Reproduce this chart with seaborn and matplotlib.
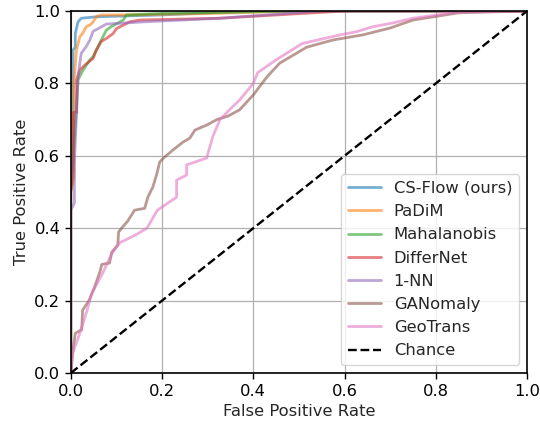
import matplotlib
matplotlib.use('Agg')
import matplotlib.pyplot as plt
import seaborn as sns
import pandas as pd

# ROC vertices (fpr, tpr)
methods = ['CS-Flow (ours)', 'PaDiM', 'Mahalanobis', 'DifferNet', '1-NN', 'GANomaly', 'GeoTrans']

csflow_fpr = [0.0, 0.0, 0.005, 0.005, 0.01, 0.01, 0.016, 0.023, 0.056, 0.195, 0.40, 1.0]
csflow_tpr = [0.0, 0.55, 0.60, 0.892, 0.90, 0.938, 0.97, 0.98, 0.984, 0.989, 1.0, 1.0]

padim_fpr = [0.0, 0.0, 0.007, 0.007, 0.0125, 0.02, 0.027, 0.034, 0.042, 0.049, 0.056, 0.067, 0.12, 0.30, 0.50, 1.0]
padim_tpr = [0.0, 0.50, 0.54, 0.80, 0.892, 0.929, 0.94, 0.957, 0.961, 0.970, 0.984, 0.989, 0.989, 0.993, 1.0, 1.0]

maha_fpr = [0.0, 0.0, 0.004, 0.012, 0.016, 0.027, 0.042, 0.049, 0.06, 0.067, 0.078, 0.089, 0.115, 0.122, 0.195, 0.50, 1.0]
maha_tpr = [0.0, 0.50, 0.57, 0.72, 0.81, 0.837, 0.865, 0.874, 0.902, 0.92, 0.947, 0.957, 0.975, 0.989, 0.993, 1.0, 1.0]

differ_fpr = [0.0, 0.0, 0.006, 0.006, 0.013, 0.013, 0.02, 0.031, 0.049, 0.056, 0.067, 0.078, 0.093, 0.10, 0.115, 0.129,
              0.151, 0.327, 0.60, 1.0]
differ_tpr = [0.0, 0.50, 0.57, 0.72, 0.72, 0.81, 0.837, 0.851, 0.869, 0.892, 0.916, 0.924, 0.938, 0.951, 0.961, 0.970,
              0.975, 0.980, 1.0, 1.0]

nn_fpr = [0.0, 0.0, 0.008, 0.008, 0.016, 0.023, 0.034, 0.042, 0.049, 0.06, 0.078, 0.107, 0.16, 0.327, 0.55, 1.0]
nn_tpr = [0.0, 0.45, 0.47, 0.58, 0.82, 0.883, 0.902, 0.92, 0.944, 0.951, 0.964, 0.966, 0.97, 0.98, 1.0, 1.0]

gan_fpr = [0.0, 0.005, 0.01, 0.024, 0.026, 0.04, 0.053, 0.064, 0.068, 0.085, 0.09, 0.103, 0.105, 0.114, 0.125,
           0.14, 0.162, 0.169, 0.18, 0.189, 0.195, 0.206, 0.224, 0.246, 0.261, 0.272, 0.298, 0.32, 0.345, 0.37,
           0.40, 0.43, 0.458, 0.517, 0.575, 0.64, 0.70, 0.75, 0.80, 0.85, 1.0]
gan_tpr = [0.0, 0.064, 0.11, 0.12, 0.174, 0.20, 0.24, 0.28, 0.30, 0.304, 0.334, 0.353, 0.39, 0.404, 0.42,
           0.45, 0.455, 0.486, 0.514, 0.552, 0.583, 0.597, 0.616, 0.638, 0.649, 0.671, 0.685, 0.70, 0.71, 0.727,
           0.768, 0.818, 0.856, 0.90, 0.92, 0.934, 0.953, 0.975, 0.985, 0.995, 1.0]

geo_fpr = [0.0, 0.004, 0.02, 0.035, 0.046, 0.07, 0.09, 0.107, 0.14, 0.167, 0.19, 0.232, 0.232, 0.254, 0.254,
           0.298, 0.311, 0.327, 0.35, 0.37, 0.40, 0.41, 0.45, 0.507, 0.59, 0.627, 0.66, 0.706, 0.75, 0.85, 1.0]
geo_tpr = [0.0, 0.055, 0.11, 0.17, 0.22, 0.276, 0.33, 0.36, 0.38, 0.40, 0.45, 0.486, 0.533, 0.547, 0.575,
           0.594, 0.652, 0.70, 0.73, 0.754, 0.80, 0.83, 0.865, 0.91, 0.934, 0.943, 0.956, 0.967, 0.98, 0.997, 1.0]

curves = {
    'CS-Flow (ours)': (csflow_fpr, csflow_tpr),
    'PaDiM': (padim_fpr, padim_tpr),
    'Mahalanobis': (maha_fpr, maha_tpr),
    'DifferNet': (differ_fpr, differ_tpr),
    '1-NN': (nn_fpr, nn_tpr),
    'GANomaly': (gan_fpr, gan_tpr),
    'GeoTrans': (geo_fpr, geo_tpr),
}

sns.set_style('ticks')
plt.rcParams['font.family'] = ['DejaVu Sans']

fig, ax = plt.subplots(figsize=(5.4, 4.23), dpi=100)
colors = sns.color_palette('tab10')

for i, name in enumerate(methods):
    fpr, tpr = curves[name]
    df = pd.DataFrame({'fpr': fpr, 'tpr': tpr})
    sns.lineplot(data=df, x='fpr', y='tpr', ax=ax, sort=False, estimator=None, color=colors[i],
                 alpha=0.6, linewidth=2, label=name)

chance = pd.DataFrame({'fpr': [0, 1], 'tpr': [0, 1]})
sns.lineplot(data=chance, x='fpr', y='tpr', ax=ax, color='black', linestyle='--', linewidth=1.7, label='Chance')

ax.set_xlim(0, 1)
ax.set_ylim(0, 1)
ax.grid(True, color='#b0b0b0', linewidth=0.9)
for s in ax.spines.values():
    s.set_color('black')
    s.set_linewidth(1.2)
ax.tick_params(labelsize=11.8, length=4, width=1, colors='black')
ax.set_xlabel('False Positive Rate', fontsize=11.8)
ax.set_ylabel('True Positive Rate', fontsize=11.8)
ax.legend(loc='lower right', fontsize=11.8, framealpha=0.8)

plt.subplots_adjust(left=0.131, right=0.976, top=0.974, bottom=0.118)
plt.savefig('out.png', dpi=100)
